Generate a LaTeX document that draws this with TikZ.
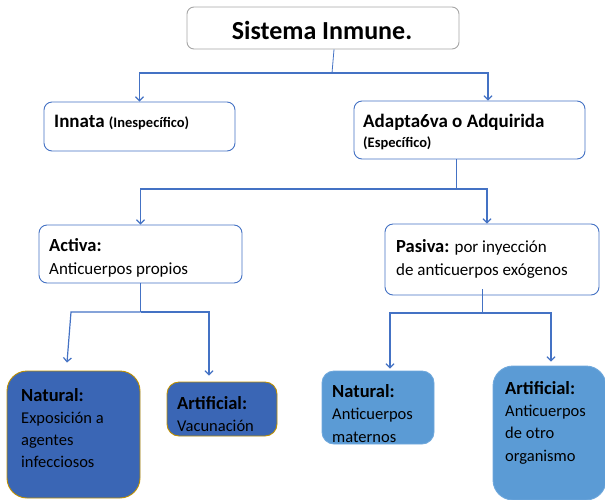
\documentclass[tikz,border=0pt]{standalone}
\usepackage{fontspec}
\setmainfont{Carlito}
\usetikzlibrary{arrows.meta}
\definecolor{lineblue}{HTML}{4472C4}
\definecolor{darkfill}{HTML}{3A66B5}
\definecolor{lightfill}{HTML}{5B9BD5}
\definecolor{goldbd}{HTML}{BF9000}
\definecolor{lightbd}{HTML}{6FA8DC}
\definecolor{graybd}{HTML}{A6A6A6}
\tikzset{
  graybox/.style={draw=graybd, line width=0.9pt, fill=white, rounded corners=7pt, inner sep=0pt},
  topbox/.style={draw=lineblue, line width=0.9pt, fill=white, rounded corners=8pt, inner sep=0pt},
  darkbox/.style={draw=goldbd, line width=0.9pt, fill=darkfill, inner sep=0pt},
  lightbox/.style={draw=lightbd, line width=0.9pt, fill=lightfill, inner sep=0pt},
  lbl/.style={inner sep=0pt, align=left, anchor=north west, text=black},
  stem/.style={draw=lineblue, line width=0.8pt},
  arrowline/.style={draw=lineblue, line width=1.2pt, -{Straight Barb[length=4pt,width=8pt]}},
}
\newcommand{\hstrut}[1]{\rule{0pt}{#1pt}}
\newcommand{\hd}[1]{{\bfseries\fontsize{18.5}{20}\selectfont #1}}
\begin{document}
\begin{tikzpicture}[x=1pt,y=-1pt]
\useasboundingbox (0,0) rectangle (605,499);
% boxes
\node[graybox, minimum width=272pt, minimum height=42pt] (title) at (323,28) {};
\node[topbox, minimum width=191pt, minimum height=49pt] (innata) at (139.5,126.5) {};
\node[topbox, minimum width=231pt, minimum height=58pt] (adapt) at (469.5,130) {};
\node[topbox, minimum width=203pt, minimum height=58pt] (activa) at (140.5,254) {};
\node[topbox, minimum width=214pt, minimum height=71pt] (pasiva) at (492,259.5) {};
\node[darkbox, rounded corners=20pt, minimum width=133pt, minimum height=127pt] (nat1) at (73.5,434.5) {};
\node[darkbox, rounded corners=12pt, minimum width=110pt, minimum height=54pt] (art1) at (222,409) {};
\node[lightbox, rounded corners=12pt, minimum width=112pt, minimum height=73pt] (nat2) at (378,407.5) {};
\node[lightbox, rounded corners=20pt, minimum width=113pt, minimum height=134pt] (art2) at (549.5,433) {};
% texts
\node[inner sep=0pt, anchor=base, font=\bfseries\fontsize{26}{30}\selectfont] (ttitle) at (322,39) {Sistema Inmune.};
\node[inner sep=0pt, anchor=base west, font=\bfseries\fontsize{19}{22}\selectfont] (tinnata) at (54,127) {Innata {\fontsize{14.5}{17}\selectfont (Inespecífico)}};
\node[lbl, font=\bfseries\fontsize{19}{20}\selectfont] (tadapt) at (363,114) {\hstrut{13}Adapta6va o Adquirida\\{\fontsize{14.5}{20}\selectfont (Específico)}};
\node[lbl, font=\fontsize{17}{23}\selectfont] (tactiva) at (49,238) {\hstrut{13}\hd{Activa:}\\Anticuerpos propios};
\node[lbl, font=\fontsize{17}{23}\selectfont] (tpasiva) at (396,239) {\hstrut{13}\hd{Pasiva:} por inyección\\de anticuerpos exógenos};
\node[lbl, font=\fontsize{16.5}{22}\selectfont] (tnat1) at (21,388) {\hstrut{13}\hd{Natural:}\\Exposición a\\agentes\\infecciosos};
\node[lbl, font=\fontsize{16.5}{22}\selectfont] (tart1) at (177,396) {\hstrut{13}\hd{Artificial:}\\Vacunación};
\node[lbl, font=\fontsize{16.5}{22.5}\selectfont] (tnat2) at (332,384) {\hstrut{13}\hd{Natural:}\\Anticuerpos\\maternos};
\node[lbl, font=\fontsize{16.5}{22.3}\selectfont] (tart2) at (505,381) {\hstrut{13}\hd{Artificial:}\\Anticuerpos\\de otro\\organismo};
% connectors
\coordinate (j1) at (332,73);
\draw[stem] ([xshift=11pt]title.south) -- (j1);
\draw[arrowline] (j1) -| (innata.north);
\draw[arrowline] (j1) -| ([xshift=18.5pt]adapt.north);
\coordinate (j2) at (456,189);
\draw[stem] ([xshift=-13.5pt]adapt.south) -- (j2);
\draw[arrowline] (j2) -| (activa.north);
\draw[arrowline] (j2) -| ([xshift=-5pt]pasiva.north);
\coordinate (j3) at (140.5,312);
\coordinate (k1) at (71,312);
\draw[stem] (activa.south) -- (j3);
\draw[arrowline] (j3) -- (k1) -- ([xshift=-6.5pt,yshift=8pt]nat1.north);
\draw[arrowline] (j3) -| ([xshift=-13pt,yshift=6pt]art1.north);
\coordinate (j4) at (482,313);
\draw[stem] ([xshift=-10pt,yshift=6pt]pasiva.south) -- (j4);
\draw[arrowline] (j4) -| ([xshift=12pt,yshift=2pt]nat2.north);
\draw[arrowline] (j4) -| ([xshift=1.5pt,yshift=4pt]art2.north);
\end{tikzpicture}
\end{document}
